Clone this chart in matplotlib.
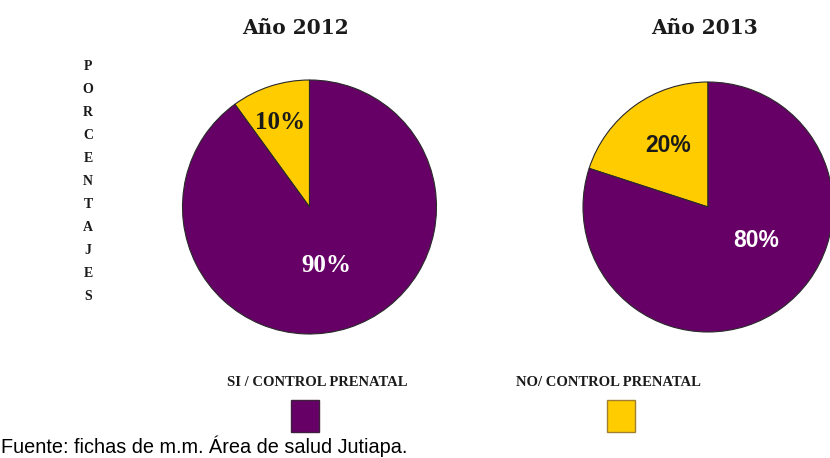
import numpy as np
import matplotlib.pyplot as plt
from matplotlib.patches import Rectangle

# data
years = ['Año 2012', 'Año 2013']
categories = ['NO/ CONTROL PRENATAL', 'SI / CONTROL PRENATAL']
no_control = [10, 20]
si_control = [90, 80]
axis_label = 'PORCENTAJES'
source = 'Fuente: fichas de m.m. Área de salud Jutiapa.'

purple = '#660066'
yellow = '#ffcc00'

W, H = 830, 458
fig = plt.figure(figsize=(W / 100, H / 100), dpi=100)


def fx(x):
    return x / W


def fy(y):
    return 1 - y / H


# pie axes: (center x, center y, radius) in pixels
pie_boxes = [(309.5, 207, 127), (708, 207, 125)]
# label placement: (distance, angle shift) for [no, si]
label_pos = [[(0.70, 1), (0.48, -2)], [(0.59, -3), (0.47, 19)]]
label_font = [dict(family='Liberation Serif', size=18),
              dict(family='Liberation Sans', size=16.5)]
title_x = [295, 704]

for i, (cx, cy, r) in enumerate(pie_boxes):
    ax = fig.add_axes([fx(cx - r), fy(cy + r), 2 * r / W, 2 * r / H])
    vals = [no_control[i], si_control[i]]
    wedges, _ = ax.pie(vals, colors=[yellow, purple], startangle=90,
                       counterclock=True, radius=1,
                       wedgeprops=dict(edgecolor='#2a2a2a', linewidth=0.8))
    ax.set_xlim(-1, 1)
    ax.set_ylim(-1, 1)
    ax.set_aspect('auto')
    ax.axis('off')
    for j, w in enumerate(wedges):
        d, shift = label_pos[i][j]
        ang = np.deg2rad((w.theta1 + w.theta2) / 2 + shift)
        ax.text(d * np.cos(ang), d * np.sin(ang), f'{vals[j]}%',
                ha='center', va='center', fontweight='bold',
                color='#1a1a1a' if j == 0 else 'white', **label_font[i])
    fig.text(fx(title_x[i]), fy(28), years[i], ha='center', va='center',
             family='DejaVu Serif', fontweight='bold', fontsize=14.5,
             color='#1a1a1a')

# vertical axis label, one letter per line
for k, ch in enumerate(axis_label):
    fig.text(fx(88), fy(67 + k * 22.9), ch, ha='center', va='center',
             family='Liberation Serif', fontweight='bold', fontsize=10,
             color='#1a1a1a')

# legend
leg = [(categories[1], purple, '#40203f', 317, 305),
       (categories[0], yellow, '#a08030', 608, 621)]
for text, col, edge, tx, sx in leg:
    fig.text(fx(tx), fy(383), text, ha='center', va='center',
             family='Liberation Serif', fontweight='bold', fontsize=10.5,
             color='#1a1a1a')
    fig.patches.append(Rectangle((fx(sx - 14), fy(432)), 28 / W, 32 / H,
                                 transform=fig.transFigure, facecolor=col,
                                 edgecolor=edge, linewidth=1))

fig.text(fx(1), fy(453), source, ha='left', va='baseline',
         family='Liberation Sans', fontsize=14.3, color='black')

fig.savefig('out.png', dpi=100)
